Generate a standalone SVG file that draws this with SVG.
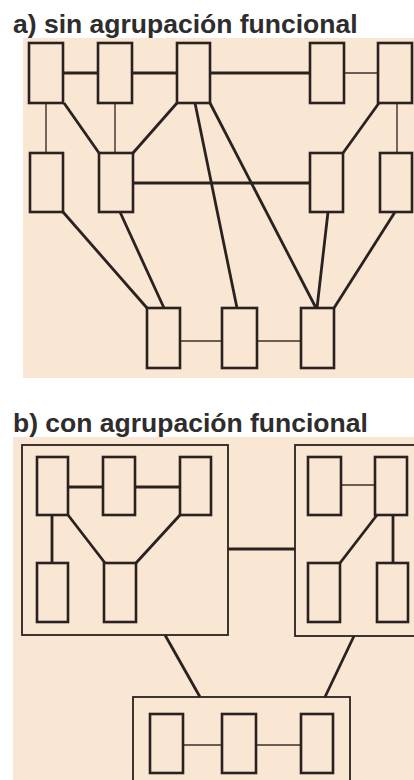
<svg xmlns="http://www.w3.org/2000/svg" width="414" height="780" viewBox="0 0 414 780">
<style>
.bg{fill:#f9e6d3}
.title{font-family:"Liberation Sans",Arial,sans-serif;font-weight:bold;font-size:26.5px;fill:#2e2c2c}
.n{fill:#f9e6d3;stroke:#2a2220;stroke-width:2.6}
.g{fill:none;stroke:#2a2220;stroke-width:1.8}
.k{stroke:#2a2220;stroke-width:2.8;fill:none}
.t{stroke:#3a302a;stroke-width:1.4;fill:none}
</style>
<rect x="0" y="0" width="414" height="780" fill="#ffffff"/>
<text class="title" x="13" y="33">a) sin agrupación funcional</text>
<rect class="bg" x="23" y="38" width="391" height="340"/>
<g id="conn-a">
<line class="k" x1="63" y1="73" x2="98" y2="73"/>
<line class="k" x1="132" y1="73" x2="177" y2="73"/>
<line class="k" x1="210" y1="73" x2="310" y2="73"/>
<line class="t" x1="344" y1="73" x2="378" y2="73"/>
<line class="t" x1="46" y1="103" x2="46" y2="153"/>
<line class="t" x1="115" y1="103" x2="115" y2="153"/>
<line class="k" x1="64" y1="103" x2="99" y2="153"/>
<line class="k" x1="177" y1="103" x2="133" y2="153"/>
<line class="k" x1="379" y1="103" x2="343" y2="153"/>
<line class="t" x1="397" y1="103" x2="397" y2="153"/>
<line class="k" x1="133" y1="183" x2="310" y2="183"/>
<line class="k" x1="195" y1="103" x2="237" y2="308"/>
<line class="k" x1="210" y1="103" x2="316" y2="308"/>
<line class="k" x1="63" y1="212" x2="147" y2="308"/>
<line class="k" x1="120" y1="212" x2="164" y2="308"/>
<line class="k" x1="328" y1="212" x2="317" y2="308"/>
<line class="k" x1="395" y1="212" x2="334" y2="308"/>
<line class="t" x1="180" y1="341" x2="222" y2="341"/>
<line class="t" x1="257" y1="341" x2="301" y2="341"/>
</g>
<g id="a1"><rect class="n" x="29" y="43" width="34" height="60"/></g>
<g id="a2"><rect class="n" x="98" y="43" width="34" height="60"/></g>
<g id="a3"><rect class="n" x="177" y="43" width="33" height="60"/></g>
<g id="a4"><rect class="n" x="310" y="43" width="34" height="60"/></g>
<g id="a5"><rect class="n" x="378" y="43" width="34" height="60"/></g>
<g id="a6"><rect class="n" x="30" y="153" width="33" height="59"/></g>
<g id="a7"><rect class="n" x="99" y="153" width="34" height="59"/></g>
<g id="a8"><rect class="n" x="310" y="153" width="33" height="59"/></g>
<g id="a9"><rect class="n" x="380" y="153" width="32" height="59"/></g>
<g id="a10"><rect class="n" x="147" y="308" width="33" height="60"/></g>
<g id="a11"><rect class="n" x="222" y="308" width="35" height="60"/></g>
<g id="a12"><rect class="n" x="301" y="308" width="33" height="60"/></g>

<text class="title" x="13" y="432">b) con agrupación funcional</text>
<rect class="bg" x="13" y="437" width="401" height="343"/>
<g id="conn-b">
<line class="k" x1="228" y1="549" x2="295" y2="549"/>
<line class="k" x1="165" y1="635" x2="200" y2="697"/>
<line class="k" x1="354" y1="636" x2="325" y2="697"/>
<line class="k" x1="68" y1="487" x2="103" y2="487"/>
<line class="k" x1="135" y1="487" x2="180" y2="487"/>
<line class="k" x1="52" y1="515" x2="52" y2="563"/>
<line class="k" x1="68" y1="515" x2="105" y2="563"/>
<line class="k" x1="180" y1="515" x2="136" y2="563"/>
<line class="t" x1="341" y1="485" x2="375" y2="485"/>
<line class="k" x1="393" y1="515" x2="393" y2="563"/>
<line class="k" x1="377" y1="515" x2="340" y2="563"/>
<line class="t" x1="183" y1="745" x2="222" y2="745"/>
<line class="t" x1="256" y1="745" x2="301" y2="745"/>
</g>
<g id="groupA">
<rect class="g" x="22" y="445" width="206" height="190"/>
<rect class="n" x="37" y="457" width="31" height="58"/>
<rect class="n" x="103" y="457" width="32" height="58"/>
<rect class="n" x="180" y="457" width="31" height="58"/>
<rect class="n" x="37" y="563" width="31" height="59"/>
<rect class="n" x="104" y="563" width="32" height="59"/>
</g>
<g id="groupB">
<rect class="g" x="295" y="445" width="130" height="191"/>
<rect class="n" x="308" y="457" width="33" height="58"/>
<rect class="n" x="375" y="457" width="32" height="58"/>
<rect class="n" x="308" y="563" width="32" height="59"/>
<rect class="n" x="377" y="563" width="31" height="59"/>
</g>
<g id="groupC">
<rect class="g" x="133" y="697" width="217" height="100"/>
<rect class="n" x="150" y="714" width="33" height="59"/>
<rect class="n" x="222" y="714" width="34" height="59"/>
<rect class="n" x="301" y="714" width="32" height="59"/>
</g>
</svg>
